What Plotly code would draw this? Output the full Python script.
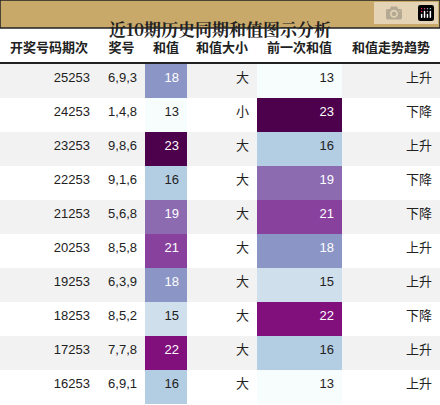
import plotly.graph_objects as go

periods = ["25253","24253","23253","22253","21253","20253","19253","18253","17253","16253"]
draws = ["6,9,3","1,4,8","9,8,6","9,1,6","5,6,8","8,5,8","6,3,9","8,5,2","7,7,8","6,9,1"]
sums = [18,13,23,16,19,21,18,15,22,16]
sizes = ["大","小","大","大","大","大","大","大","大","大"]
prev_sums = [13,23,16,19,21,18,15,22,16,13]
trends = ["上升","下降","上升","下降","下降","上升","上升","下降","上升","上升"]
headers = ["开奖号码期次","奖号","和值","和值大小","前一次和值","和值走势趋势"]
title = "近10期历史同期和值图示分析"

cmap = {13:"#f7fcfd",15:"#d0dfec",16:"#b3cde3",18:"#8c96c6",19:"#8c6bb1",
        21:"#88419d",22:"#810f7c",23:"#4d004b"}
def tcol(v): return "#ffffff" if v >= 18 else "#222222"
stripe = ["#f2f2f2" if i % 2 == 0 else "#ffffff" for i in range(10)]

fills = [stripe, stripe, [cmap[v] for v in sums], stripe, [cmap[v] for v in prev_sums], stripe]
fcols = ["#222222","#222222",[tcol(v) for v in sums],"#222222",[tcol(v) for v in prev_sums],"#222222"]

fig = go.Figure(go.Table(
    domain=dict(x=[0,1], y=[0, 1-29/405]),
    columnwidth=[98,47,42,70,85,98],
    header=dict(values=["<b>%s</b>" % h for h in headers], fill_color="white",
                line=dict(color="white", width=0), align="center", height=34,
                font=dict(family="Noto Sans CJK SC", size=13, color="#222222")),
    cells=dict(values=[periods, draws, sums, sizes, prev_sums, trends],
               fill_color=fills, line=dict(color="rgba(0,0,0,0)", width=0),
               align="right", height=34,
               font=dict(family="Liberation Sans, Noto Sans CJK SC", size=13, color=fcols)),
))
fig.add_shape(type="rect", xref="paper", yref="paper", x0=0, x1=1, y0=1-28/405, y1=1,
              fillcolor="#c9a96a", line=dict(color="#222222", width=1.5))
fig.add_shape(type="line", xref="paper", yref="paper", x0=0, x1=1,
              y0=1-63/405, y1=1-63/405, line=dict(color="#222222", width=2))
fig.add_annotation(text="<b>%s</b>" % title, xref="paper", yref="paper", x=0.5,
                   y=1-14/405, showarrow=False,
                   font=dict(family="Noto Serif CJK SC, Noto Sans CJK SC", size=17, color="#222222"))
fig.update_layout(width=440, height=405, margin=dict(l=0, r=0, t=0, b=0),
                  paper_bgcolor="white")
fig.write_html("out.html", post_script="document.body.style.margin='0';document.body.style.overflow='hidden';")
